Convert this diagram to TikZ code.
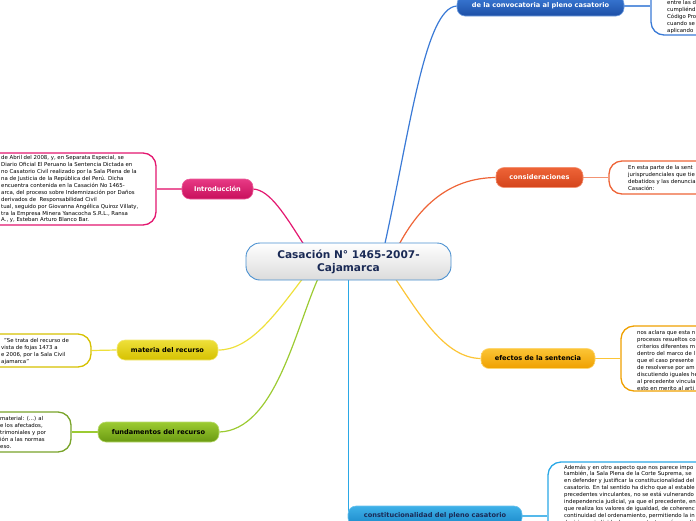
\documentclass[tikz,border=0pt]{standalone}
\usepackage{fontspec}
\setmainfont{DejaVu Sans}
\usetikzlibrary{backgrounds,calc}
\definecolor{cpink}{HTML}{E3176F}
\definecolor{cpinkd}{HTML}{C80F5C}
\definecolor{corange}{HTML}{EE6437}
\definecolor{coranged}{HTML}{D4441B}
\definecolor{cblue}{HTML}{3A7AD6}
\definecolor{cblued}{HTML}{1C4FA6}
\definecolor{cgold}{HTML}{FCC536}
\definecolor{cgoldd}{HTML}{EFA000}
\definecolor{cyel}{HTML}{EEE03A}
\definecolor{cyeld}{HTML}{D6C100}
\definecolor{cgreen}{HTML}{9CCB32}
\definecolor{cgreend}{HTML}{6A9A12}
\definecolor{clblue}{HTML}{2AA8E6}
\definecolor{clblued}{HTML}{1888C8}
\definecolor{cnavy}{HTML}{1A2A55}
\definecolor{cedge}{HTML}{4A90D0}
\tikzset{
  branch/.style={rounded corners=8pt, minimum height=20pt, inner sep=0pt,
    font=\fontsize{6.6}{8}\selectfont\bfseries, line width=0.6pt},
  infobox/.style={rounded corners=13pt, line width=1.3pt, inner sep=0pt},
  infotext/.style={anchor=north west, inner sep=0pt, align=left,
    font=\fontsize{5.4}{6.9}\selectfont},
  conn/.style={line width=1.2pt}
}
\begin{document}
\begin{tikzpicture}[x=1pt,y=-1pt]
\useasboundingbox (0,0) rectangle (696,520);

% central node
\node[rounded corners=14pt, draw=cedge, line width=0.9pt, top color=white, bottom color=black!14,
  minimum width=205pt, minimum height=37pt, align=center, text=cnavy,
  font=\fontsize{10.6}{13}\selectfont\bfseries] (center) at (348.5,261.5)
  {Casación N° 1465-2007-\\Cajamarca};

% branch nodes
\node[branch, top color=cpink!85, bottom color=cpinkd, draw=cpink!70, text=white, minimum width=71pt] (intro) at (217.5,189) {Introducción};
\node[branch, top color=corange, bottom color=coranged, draw=corange!70, text=white, minimum width=87pt] (consid) at (539.5,177.5) {consideraciones};
\node[branch, top color=cblue, bottom color=cblued, draw=cblue!70, text=white, minimum width=167pt] (convoc) at (540.5,6) {de la convocatoria al pleno casatorio};
\node[branch, top color=cgold, bottom color=cgoldd, draw=cgold!70, text=black, minimum width=114pt] (efectos) at (538,358.5) {efectos de la sentencia};
\node[branch, top color=cyel, bottom color=cyeld, draw=cyel!70, text=black, minimum width=101pt] (materia) at (167.5,350) {materia del recurso};
\node[branch, top color=cgreen, bottom color=cgreend, draw=cgreen!70, text=black, minimum width=121pt] (fund) at (158.5,432) {fundamentos del recurso};
\node[branch, top color=clblue!90, bottom color=clblued, draw=clblue!70, text=cnavy, minimum width=174pt] (constit) at (435,516) {constitucionalidad del pleno casatorio};

% info boxes
\node[infobox, draw=cpink, fill=white, minimum width=196pt, minimum height=72pt] (introbox) at (58,189) {};
\node[infobox, draw=cyeld, fill=white, minimum width=131pt, minimum height=33pt] (materiabox) at (25.5,350.5) {};
\node[infobox, draw=cgreend!90, fill=white, minimum width=111pt, minimum height=40pt] (fundbox) at (15.5,432) {};
\node[infobox, draw=corange, fill=white, minimum width=131pt, minimum height=33pt] (considbox) at (674.5,177.5) {};
\node[infobox, draw=cgoldd, fill=white, minimum width=139pt, minimum height=65pt] (efectosbox) at (690.5,358.5) {};
\node[infobox, draw=cblue, fill=white, minimum width=109pt, minimum height=65pt] (convocbox) at (705.5,2.5) {};
\node[infobox, draw=clblue, fill=white, minimum width=212pt, minimum height=98pt] (constitbox) at (654,511) {};

% texts
\node[infotext] (introtxt) at (1,155.5) {%
de Abril del 2008, y, en Separata Especial, se\\
Diario Oficial El Peruano la Sentencia Dictada en\\
no Casatorio Civil realizado por la Sala Plena de la\\
na de Justicia de la República del Perú. Dicha\\
encuentra contenida en la Casación No 1465-\\
arca, del proceso sobre Indemnización por Daños\\
derivados de~ Responsabilidad Civil\\
tual, seguido por Giovanna Angélica Quiroz Villaty,\\
tra la Empresa Minera Yanacocha S.R.L., Ransa\\
A., y, Esteban Arturo Blanco Bar.};
\node[infotext] (materiatxt) at (1,338.5) {%
\hspace{3pt}"Se trata del recurso de\\
vista de fojas 1473 a\\
e 2006, por la Sala Civil\\
ajamarca"};
\node[infotext] (fundtxt) at (0,416.5) {%
material: (...) al\\
e los afectados,\\
trimoniales y por\\
ión a las normas\\
eso.};
\node[infotext] (considtxt) at (628,165.5) {%
En esta parte de la sent\\
jurisprudenciales que tie\\
debatidos y las denuncia\\
Casación:};
\node[infotext] (efectostxt) at (637,330.5) {%
nos aclara que esta n\\
procesos resueltos co\\
criterios diferentes m\\
dentro del marco de l\\
que el caso presente\\
de resolverse por am\\
discutiendo iguales he\\
al precedente vincula\\
esto en merito al arti};
\node[infotext] (convoctxt) at (667,0.5) {%
entre las d\\
cumpliénd\\
Código Pro\\
cuando se\\
aplicando};
\node[infotext] (constittxt) at (564,464.5) {%
Además y en otro aspecto que nos parece impo\\
también, la Sala Plena de la Corte Suprema, se\\
en defender y justificar la constitucionalidad del\\
casatorio. En tal sentido ha dicho que al estable\\
precedentes vinculantes, no se está vulnerando\\
independencia judicial, ya que el precedente, en\\
que realiza los valores de igualdad, de coherenc\\
continuidad del ordenamiento, permitiendo la in\\
decisiones individuales en contextos más amplio};

% connectors
\begin{pgfonlayer}{background}
\draw[conn, cpink] ($(center.north)+(-44,3)$) .. controls (285,215) and (270,190) .. (intro.east);
\draw[conn, corange] ($(center.north)+(50,3)$) .. controls (420,205) and (450,178) .. (consid.west);
\draw[conn, cblue] ($(center.north)+(36,3)$) .. controls (410,130) and (425,8) .. (convoc.west);
\draw[conn, cgold] ($(center.south)+(46,-3)$) .. controls (420,315) and (445,358) .. (efectos.west);
\draw[conn, cyel] ($(center.south)+(-45,-3)$) .. controls (275,315) and (250,350) .. (materia.east);
\draw[conn, cgreen] ($(center.south)+(-30,-3)$) .. controls (295,330) and (275,430) .. (fund.east);
\draw[conn, clblue, line width=1.5pt] ($(center.south -| constit.west)+(0.8,-3)$) -- ($(constit.north west)+(0.8,6)$);
\draw[conn, cpink!70] (intro.west) -- (introbox.east);
\draw[conn, cyel] (materia.west) -- (materiabox.east);
\draw[conn, cgreen] (fund.west) -- (fundbox.east);
\draw[conn, corange!70] (consid.east) -- (considbox.west);
\draw[conn, cgold] (efectos.east) -- (efectosbox.west);
\draw[conn, cblue!80] (convoc.east) -- (convoc.east -| convocbox.west);
\draw[conn, clblue!80] (constit.east) -- (constit.east -| constitbox.west);
\end{pgfonlayer}
\end{tikzpicture}
\end{document}
